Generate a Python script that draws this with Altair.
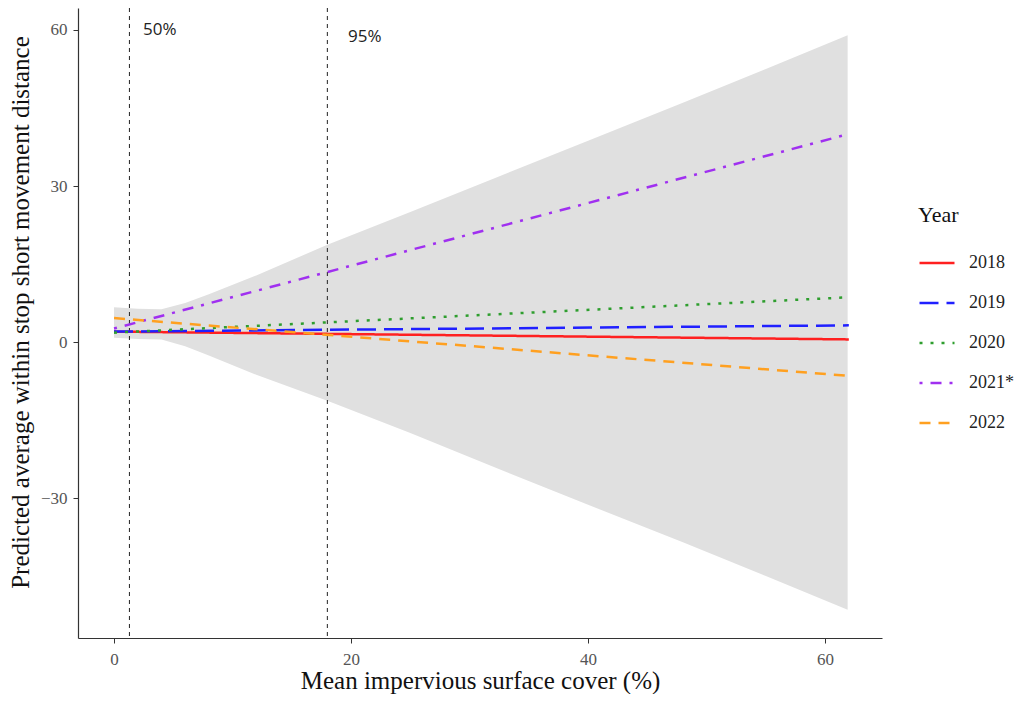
import altair as alt
import pandas as pd

# ---- data ----
ribbon_x = [0, 2, 4, 6, 8, 12, 18, 25, 32, 40, 48, 55, 61.9]
ribbon_upper = [6.7, 6.4, 6.3, 7.5, 9.2, 12.8, 18.7, 25.0, 31.4, 38.7, 46.0, 52.5, 59.0]
ribbon_lower = [0.8, 0.6, 0.5, -0.8, -2.6, -6.3, -11.3, -17.5, -24.0, -31.3, -38.5, -45.0, -51.5]

years = ["2018", "2019", "2020", "2021*", "2022"]
line_x = [0, 62]
y_2018 = [2.0, 0.5]
y_2019 = [2.0, 3.2]
y_2020 = [1.8, 8.6]
y_2021 = [2.6, 40.0]
y_2022 = [4.6, -6.5]

colors = ["#FF2020", "#2020FF", "#2E9E2E", "#A030F0", "#FFA020"]
dashes = [[1, 0], [19, 8], [3, 8], [3, 8, 11, 8], [11, 8]]

vlines = [1.3, 18.0]
ann_text = ["50%", "95%"]
ann_x = [2.45, 19.75]
ann_y = [60.0, 58.7]

x_ticks = [0, 20, 40, 60]
y_ticks = [-30, 0, 30, 60]

# ---- tables ----
rib = pd.DataFrame({"x": ribbon_x, "lo": ribbon_lower, "hi": ribbon_upper})
series = {"2018": y_2018, "2019": y_2019, "2020": y_2020, "2021*": y_2021, "2022": y_2022}
rows = []
for yr in years:
    for xv, yv in zip(line_x, series[yr]):
        rows.append({"x": xv, "y": yv, "Year": yr})
lines = pd.DataFrame(rows)
vl = pd.DataFrame({"x": vlines})
ann = pd.DataFrame({"x": ann_x, "y": ann_y, "t": ann_text})

SERIF = "Liberation Serif"

xscale = alt.Scale(domain=[-3.04, 64.8], nice=False, zero=False)
yscale = alt.Scale(domain=[-56.92, 64.23], nice=False, zero=False)

xaxis = alt.Axis(
    title="Mean impervious surface cover (%)", values=x_ticks, grid=False,
    titleFont=SERIF, titleFontSize=25, titleFontWeight="normal", titleColor="#111",
    titleY=42, titleBaseline="middle",
    labelFont=SERIF, labelFontSize=17, labelColor="#555", labelPadding=8,
    tickSize=5, tickColor="#333", domainColor="#333", domainWidth=1.2,
)
yaxis = alt.Axis(
    title="Predicted average within stop short movement distance", values=y_ticks, grid=False,
    titleFont=SERIF, titleFontSize=25, titleFontWeight="normal", titleColor="#111",
    titleX=-58, titleY=304, titleBaseline="middle", titleAngle=270,
    labelFont=SERIF, labelFontSize=17, labelColor="#555", labelPadding=6,
    tickSize=5, tickColor="#333", domainColor="#333", domainWidth=1.2,
)

area = alt.Chart(rib).mark_area(color="#E0E0E0", opacity=1).encode(
    x=alt.X("x:Q", scale=xscale, axis=xaxis),
    y=alt.Y("lo:Q", scale=yscale, axis=yaxis),
    y2="hi:Q",
)

rules = alt.Chart(vl).mark_rule(color="#222", strokeDash=[4, 4], strokeWidth=1).encode(
    x=alt.X("x:Q", scale=xscale),
)

legend = alt.Legend(
    orient="none", legendX=840, legendY=197, title="Year",
    titleFont=SERIF, titleFontSize=22, titleFontWeight="normal", titleColor="#111",
    titlePadding=17,
    labelFont=SERIF, labelFontSize=18, labelColor="#222", labelOffset=13,
    symbolType="stroke", symbolSize=1225, symbolStrokeWidth=2.5, rowPadding=12,
)

line = alt.Chart(lines).mark_line(strokeWidth=2.5, strokeCap="butt").encode(
    x=alt.X("x:Q", scale=xscale),
    y=alt.Y("y:Q", scale=yscale),
    color=alt.Color("Year:N", scale=alt.Scale(domain=years, range=colors), legend=legend),
    strokeDash=alt.StrokeDash("Year:N", scale=alt.Scale(domain=years, range=dashes), legend=legend),
    detail="Year:N",
)

text = alt.Chart(ann).mark_text(font="Open Sans", fontSize=17, color="#222", align="left", baseline="middle").encode(
    x=alt.X("x:Q", scale=xscale),
    y=alt.Y("y:Q", scale=yscale),
    text="t:N",
)

chart = alt.layer(area, rules, line, text).properties(
    width=804, height=630,
    background="white",
    autosize=alt.AutoSizeParams(type="none"),
    padding={"left": 70, "top": 0, "right": 135, "bottom": 56},
).configure_view(strokeWidth=0, stroke="transparent")

chart.save("out.html", embed_options={"renderer": "svg", "actions": False})
